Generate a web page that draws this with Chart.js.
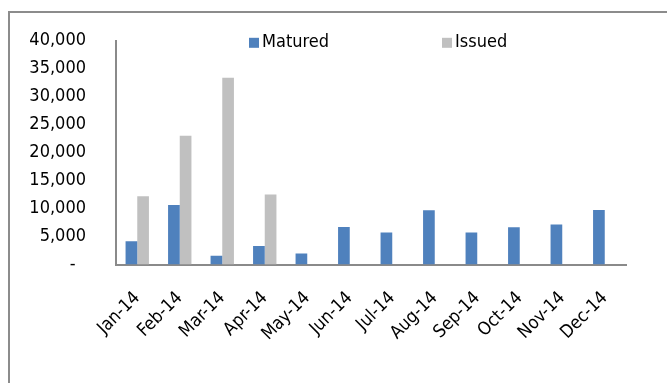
<!DOCTYPE html>
<html>
<head>
<meta charset="utf-8">
<script src="https://cdn.jsdelivr.net/npm/chart.js@4/dist/chart.umd.min.js"></script>
<style>
  html, body { margin: 0; padding: 0; background: #fff; }
  #wrap { position: relative; width: 667px; height: 383px; overflow: hidden; }
  #frame { position: absolute; left: 8px; top: 11px; width: 700px; height: 420px;
           border-left: 2px solid #8c8c8c; border-top: 2px solid #8c8c8c; }
  canvas { position: absolute; left: 0; top: 0; }
</style>
</head>
<body>
<div id="wrap">
  <div id="frame"></div>
  <canvas id="c" width="667" height="383"></canvas>
</div>
<script>
const months = ['Jan-14', 'Feb-14', 'Mar-14', 'Apr-14', 'May-14', 'Jun-14',
                'Jul-14', 'Aug-14', 'Sep-14', 'Oct-14', 'Nov-14', 'Dec-14'];
const matured = [4150, 10650, 1550, 3300, 1950, 6700, 5700, 9700, 5700, 6650, 7150, 9750];
const issued = [12200, 23000, 33400, 12500, null, null, null, null, null, null, null, null];
const yTicks = [0, 5000, 10000, 15000, 20000, 25000, 30000, 35000, 40000];

const FONT = '"DejaVu Sans Condensed", "DejaVu Sans", sans-serif';
const BLUE = '#4F81BD';
const GREY = '#C0C0C0';
const AXIS = '#8a8a8a';

// Legend drawn inside the plot area, two widely spaced entries
const topLegend = {
  id: 'topLegend',
  afterDraw(chart) {
    const ctx = chart.ctx;
    const a = chart.chartArea;
    const items = [
      { text: 'Matured', color: BLUE, x: a.left + 133 },
      { text: 'Issued', color: GREY, x: a.left + 326 }
    ];
    ctx.save();
    ctx.font = '18px ' + FONT;
    ctx.textBaseline = 'middle';
    items.forEach(it => {
      ctx.fillStyle = it.color;
      ctx.fillRect(it.x, a.top - 3, 10, 10);
      ctx.fillStyle = '#000';
      ctx.fillText(it.text, it.x + 13, a.top + 2);
    });
    ctx.restore();
  }
};

new Chart(document.getElementById('c'), {
  type: 'bar',
  data: {
    labels: months,
    datasets: [
      { label: 'Matured', data: matured, backgroundColor: BLUE },
      { label: 'Issued', data: issued, backgroundColor: GREY }
    ]
  },
  options: {
    responsive: false,
    animation: false,
    layout: { padding: { left: 0, top: 40, right: 41, bottom: 0 } },
    datasets: { bar: { categoryPercentage: 0.55, barPercentage: 1.0 } },
    plugins: { legend: { display: false }, tooltip: { enabled: false } },
    scales: {
      x: {
        grid: { display: false, drawTicks: false },
        border: { display: true, color: AXIS, width: 2 },
        ticks: {
          color: '#000',
          font: { family: FONT, size: 18 },
          minRotation: 45, maxRotation: 45,
          padding: 23,
          autoSkip: false
        },
        afterFit(s) { s.height = 118.5; }
      },
      y: {
        min: 0, max: 40000,
        grid: { display: false, drawTicks: false },
        border: { display: true, color: AXIS, width: 2 },
        afterBuildTicks(s) { s.ticks = yTicks.map(v => ({ value: v })); },
        ticks: {
          color: '#000',
          font: { family: FONT, size: 18 },
          padding: 30,
          callback: v => v === 0 ? '-  ' : v.toLocaleString('en-US')
        },
        afterFit(s) { s.width = 116; }
      }
    }
  },
  plugins: [topLegend]
});
</script>
</body>
</html>
